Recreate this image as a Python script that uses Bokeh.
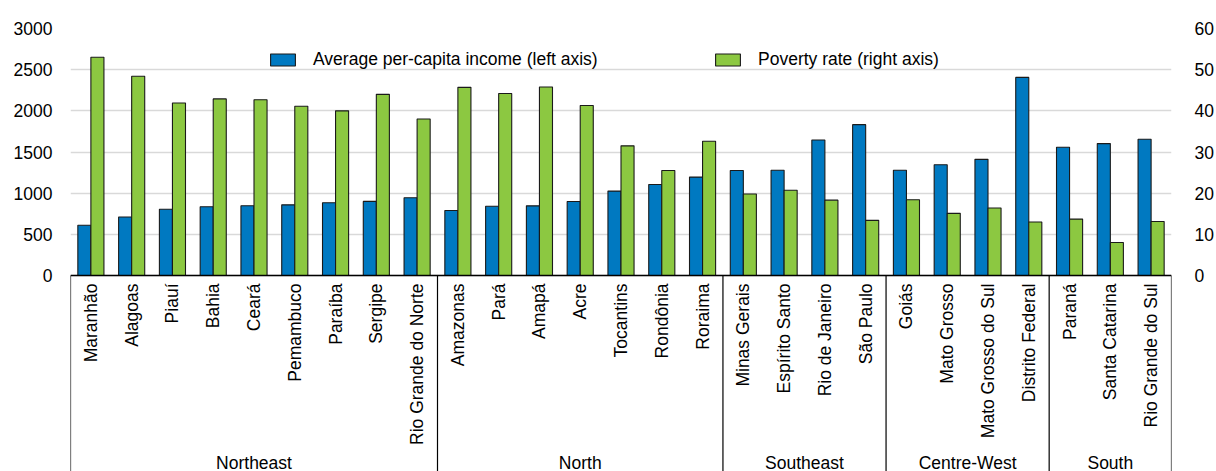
import math
from bokeh.plotting import figure
from bokeh.models import (Range1d, LinearAxis, FixedTicker, Legend, LegendItem)
from bokeh.core.properties import value
from bokeh.embed import file_html
from bokeh.resources import INLINE

# ---- data ----
groups = ["Northeast", "North", "Southeast", "Centre-West", "South"]
group_sizes = [9, 7, 4, 4, 3]
states = ["Maranhão", "Alagoas", "Piauí", "Bahia", "Ceará", "Pemambuco", "Paraíba",
          "Sergipe", "Rio Grande do Norte",
          "Amazonas", "Pará", "Amapá", "Acre", "Tocantins", "Rondônia", "Roraima",
          "Minas Gerais", "Espírito Santo", "Rio de Janeiro", "São Paulo",
          "Goiás", "Mato Grosso", "Mato Grosso do Sul", "Distrito Federal",
          "Paraná", "Santa Catarina", "Rio Grande do Sul"]
income = [610, 710, 805, 835, 848, 858, 883, 900, 945,
          790, 842, 846, 898, 1025, 1105, 1195,
          1275, 1278, 1646, 1832,
          1278, 1346, 1411, 2406,
          1557, 1602, 1655]
poverty = [53.0, 48.4, 41.9, 42.9, 42.7, 41.1, 40.0, 44.0, 38.0,
           45.7, 44.2, 45.8, 41.3, 31.5, 25.5, 32.6,
           19.8, 20.7, 18.3, 13.4,
           18.4, 15.1, 16.4, 13.0,
           13.7, 8.0, 13.1]
left_ticks = [0, 500, 1000, 1500, 2000, 2500, 3000]
right_ticks = [0, 10, 20, 30, 40, 50, 60]

# ---- layout ----
W, H = 1216, 471
TOP, LEFT, RIGHT = 28, 70, 45
frame_h = H - TOP
pxu = 247.0 / 3000.0           # pixels per income unit
ymin = 3000 - frame_h / pxu
FONT = "Liberation Sans"
FS = "17.5px"
BLUE, GREEN, EDGE = "#0079c1", "#8cc841", "#1a1a1a"

n = len(states)
p = figure(width=W, height=H, output_backend="svg", toolbar_location=None,
           x_range=Range1d(0, n), y_range=Range1d(ymin, 3000),
           x_axis_location=None, y_axis_location="left",
           min_border_left=LEFT, min_border_right=RIGHT,
           min_border_top=TOP, min_border_bottom=0)
p.outline_line_color = None
p.xgrid.visible = False
p.ygrid.ticker = FixedTicker(ticks=left_ticks)
p.ygrid.grid_line_color = "#d9d9d9"
p.ygrid.grid_line_width = 1.5

ax = p.yaxis[0]
ax.ticker = FixedTicker(ticks=left_ticks)

p.extra_y_ranges = {"right": Range1d(ymin / 50.0, 60)}
rax = LinearAxis(y_range_name="right", ticker=FixedTicker(ticks=right_ticks))
p.add_layout(rax, "right")
for a in (ax, rax):
    a.axis_line_color = None
    a.major_tick_line_color = None
    a.minor_tick_line_color = None
    a.major_label_text_font = FONT
    a.major_label_text_font_size = FS
    a.major_label_text_color = "#000000"
ax.major_label_standoff = 12
rax.major_label_standoff = 17

centers = [i + 0.5 for i in range(n)]
off = 0.16
bw = 0.32
rb = p.vbar(x=[c - off for c in centers], top=income, width=bw, bottom=0,
            fill_color=BLUE, line_color=EDGE, line_width=1.1)
rg = p.vbar(x=[c + off for c in centers], top=poverty, width=bw, bottom=0,
            fill_color=GREEN, line_color=EDGE, line_width=1.1, y_range_name="right")

# baseline
p.segment(x0=[0], y0=[0], x1=[n], y1=[0], line_color="#000000", line_width=1.5)

# group separators
bounds = [0]
for s in group_sizes:
    bounds.append(bounds[-1] + s)
p.segment(x0=bounds, y0=[0] * len(bounds), x1=bounds, y1=[ymin] * len(bounds),
          line_color="#000000", line_width=1.2)

# state labels
p.text(x=centers, y=[-8 / pxu] * n, text=states, angle=math.pi / 2,
       text_align="right", text_baseline="middle",
       text_font=value(FONT), text_font_size=FS, text_color="#000000")

# group labels
gcent = [(bounds[i] + bounds[i + 1]) / 2 for i in range(len(groups))]
p.text(x=gcent, y=[ymin + 9 / pxu] * len(groups), text=groups,
       text_align="center", text_baseline="middle",
       text_font=value(FONT), text_font_size=FS, text_color="#000000")

def mk_legend(label, r, loc):
    lg = Legend(items=[LegendItem(label=label, renderers=[r])], location=loc,
                orientation="horizontal", padding=0, margin=0,
                border_line_color=None, background_fill_alpha=0,
                glyph_width=31, glyph_height=15, label_standoff=15,
                label_text_font=FONT, label_text_font_size=FS,
                label_text_color="#000000")
    p.add_layout(lg, "center")

mk_legend("Average per-capita income (left axis)", rb, (197, frame_h - 42))
mk_legend("Poverty rate (right axis)", rg, (642, frame_h - 42))

open("out.html", "w").write(file_html(p, INLINE))
